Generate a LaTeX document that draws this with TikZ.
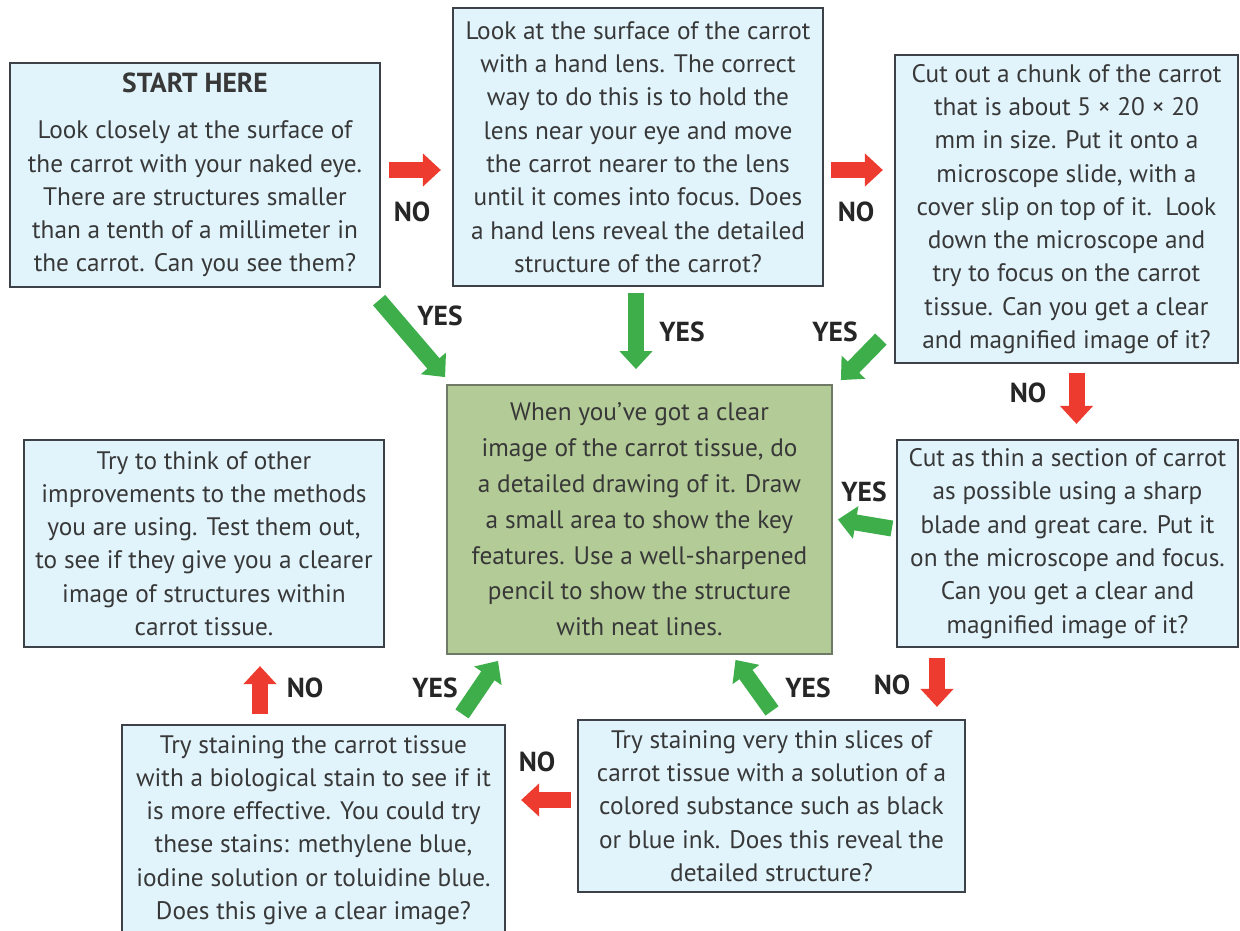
\documentclass[tikz,border=0pt]{standalone}
\usepackage{fontspec}
\setmainfont{PT Sans}
\usetikzlibrary{arrows.meta,calc}
\definecolor{boxblue}{HTML}{E1F4FC}
\definecolor{boxline}{HTML}{3C4248}
\definecolor{boxgreen}{HTML}{B3CB96}
\definecolor{greenline}{HTML}{6E7A66}
\definecolor{arrred}{HTML}{EE3B2F}
\definecolor{arrgreen}{HTML}{3DAE4A}
\definecolor{txt}{HTML}{383838}
\begin{document}
\begin{tikzpicture}[x=1pt,y=-1pt,
  box/.style={draw=boxline, line width=2.2pt, fill=boxblue, text=txt, align=center,
    inner sep=0pt, font=\fontsize{25.3}{33.3}\selectfont},
  gbox/.style={box, draw=greenline, line width=1.8pt, fill=boxgreen, font=\fontsize{25.3}{35.8}\selectfont},
  noarr/.style={draw=arrred, line width=16pt, -{Triangle[length=18pt,width=32pt]}},
  yesarr/.style={draw=arrgreen, line width=16pt, -{Triangle[length=18pt,width=32pt]}},
  lab/.style={font=\bfseries\fontsize{27.5}{27.5}\selectfont, text=black!85}
]
\fill[white] (0,0) rectangle (1240,930);
\clip (0,0) rectangle (1240,930);

\node[box, minimum width=370pt, minimum height=224pt] (A) at (195,175)
  {{\bfseries\fontsize{27.5}{30}\selectfont START HERE}\\[13pt]Look closely at the surface of\\the carrot with your naked eye.\\There are structures smaller\\than a tenth of a millimeter in\\the carrot. Can you see them?};
\node[box, minimum width=370pt, minimum height=278pt] (B) at (638,147)
  {Look at the surface of the carrot\\with a hand lens. The correct\\way to do this is to hold the\\lens near your eye and move\\the carrot nearer to the lens\\until it comes into focus. Does\\a hand lens reveal the detailed\\structure of the carrot?};
\node[box, minimum width=343pt, minimum height=308pt] (C) at (1066.5,209)
  {Cut out a chunk of the carrot\\that is about 5 × 20 × 20\\mm in size. Put it onto a\\microscope slide, with a\\cover slip on top of it.\ \ Look\\down the microscope and\\try to focus on the carrot\\tissue. Can you get a clear\\and magnified image of it?};
\node[gbox, minimum width=385pt, minimum height=269pt] (Gr) at (639.5,519.5)
  {When you’ve got a clear\\image of the carrot tissue, do\\a detailed drawing of it. Draw\\a small area to show the key\\features. Use a well-sharpened\\pencil to show the structure\\with neat lines.};
\node[box, minimum width=341pt, minimum height=207pt] (D) at (1067.5,543.5)
  {Cut as thin a section of carrot\\as possible using a sharp\\blade and great care. Put it\\on the microscope and focus.\\Can you get a clear and\\magnified image of it?};
\node[box, minimum width=360pt, minimum height=207pt] (E) at (204,543.5)
  {Try to think of other\\improvements to the methods\\you are using. Test them out,\\to see if they give you a clearer\\image of structures within\\carrot tissue.};
\node[box, minimum width=383pt, minimum height=210pt] (F) at (313.5,830)
  {Try staining the carrot tissue\\with a biological stain to see if it\\is more effective. You could try\\these stains: methylene blue,\\iodine solution or toluidine blue.\\Does this give a clear image?};
\node[box, minimum width=387pt, minimum height=172pt] (G) at (771.5,806)
  {Try staining very thin slices of\\carrot tissue with a solution of a\\colored substance such as black\\or blue ink. Does this reveal the\\detailed structure?};

% connectors
\draw[noarr] ($(A.east)+(8,-5)$) -- ($(B.west)+(-11,23)$);
\draw[noarr] ($(B.east)+(7,23)$) -- ($(C.west)+(-11,-39)$);
\draw[yesarr] ($(A.south east)+(-2,12)$) -- ($(Gr.north west)+(-1,-7)$);
\draw[yesarr] ($(B.south)+(-2,6)$) -- ($(Gr.north)+(-3.5,-15)$);
\draw[yesarr] ($(C.south west)+(-13,-25)$) -- ($(Gr.north east)+(8,-4)$);
\draw[noarr] ($(C.south)+(10,9)$) -- ($(D.north)+(9,-15)$);
\draw[yesarr] ($(D.west)+(-4,-15)$) -- ($(Gr.east)+(5,0)$);
\draw[noarr] ($(D.south)+(-130.5,10)$) -- ($(G.north)+(165.5,-12)$);
\draw[yesarr] ($(G.north)+(0.5,-8)$) -- ($(Gr.south)+(96,5)$);
\draw[yesarr] ($(F.north)+(148.5,-10)$) -- ($(Gr.south)+(-141.5,6)$);
\draw[noarr] ($(G.west)+(-6,-6)$) -- ($(F.east)+(15,-30)$);
\draw[noarr] ($(F.north)+(-53.5,-10)$) -- ($(E.south)+(56,18)$);

% labels
\node[lab] (l1) at (412,212) {NO};
\node[lab] (l2) at (856,212) {NO};
\node[lab] (l3) at (440,316) {YES};
\node[lab] (l4) at (682,332) {YES};
\node[lab] (l5) at (835,332) {YES};
\node[lab] (l6) at (1028,393) {NO};
\node[lab] (l7) at (864,492) {YES};
\node[lab] (l8) at (892,685) {NO};
\node[lab] (l9) at (808,688) {YES};
\node[lab] (l10) at (435,688) {YES};
\node[lab] (l11) at (305,688) {NO};
\node[lab] (l12) at (537,762) {NO};
\end{tikzpicture}
\end{document}
